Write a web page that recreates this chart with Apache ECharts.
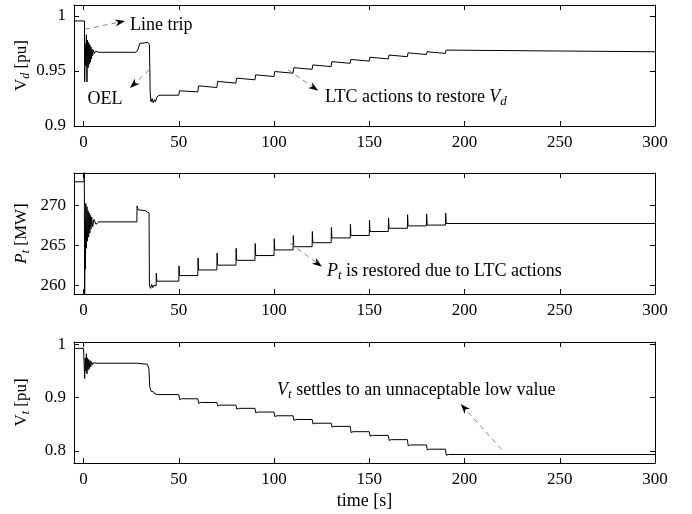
<!DOCTYPE html>
<html>
<head>
<meta charset="utf-8">
<script src="https://cdn.jsdelivr.net/npm/echarts@6/dist/echarts.min.js"></script>
<style>
html,body{margin:0;padding:0;background:#fff;}
#chart{width:692px;height:514px;}
</style>
</head>
<body>
<div id="chart"></div>
<script>
var timeTicks = [0, 50, 100, 150, 200, 250, 300];
var vdTicks = [0.9, 0.95, 1];
var ptTicks = [260, 265, 270];
var vtTicks = [0.8, 0.9, 1];

// LTC tap instants (same for the three signals)
var ltcTimes = [50, 60, 70, 80, 90, 100, 110, 120, 130, 140, 150, 160, 170, 180, 190];

// V_d : pre-fault, line trip swing, OEL action
var vdStart = [[-5, 0.9955], [0.5, 0.9955], [0.6, 0.940], [0.9, 0.975], [1.2, 0.955], [1.5, 0.983], [1.8, 0.940],
  [2.1, 0.978], [2.4, 0.953], [2.7, 0.976], [3.0, 0.956], [3.3, 0.974], [3.6, 0.958], [3.9, 0.972], [4.2, 0.961],
  [4.5, 0.970], [4.8, 0.964], [5.2, 0.969], [5.7, 0.966], [6.5, 0.968], [8, 0.967], [27.5, 0.967], [28.5, 0.969],
  [29.5, 0.975], [30.5, 0.976], [33.8, 0.976], [34.6, 0.974], [35.0, 0.930], [35.4, 0.922], [36.0, 0.925],
  [36.6, 0.921], [37.2, 0.924], [37.8, 0.922], [38.5, 0.926], [39.5, 0.928]];
var vdPeak = [0.932, 0.9365, 0.9405, 0.9435, 0.9465, 0.9495, 0.953, 0.9555, 0.9585, 0.9605, 0.9625, 0.9645, 0.9665, 0.9675, 0.969];
var vdLevel = [0.931, 0.935, 0.939, 0.942, 0.945, 0.948, 0.9515, 0.954, 0.957, 0.959, 0.961, 0.963, 0.965, 0.966, 0.9675];

// P_t [MW]
var ptStart = [[-5, 272.9], [0.3, 272.9], [0.4, 275], [0.6, 258], [0.8, 268], [1.0, 262], [1.2, 270.2], [1.5, 264.6],
  [1.8, 269.8], [2.1, 265.5], [2.4, 269.3], [2.7, 266], [3.0, 269], [3.3, 266.5], [3.6, 268.7], [3.9, 267],
  [4.3, 268.5], [4.8, 267.3], [5.5, 268.2], [6.5, 267.6], [8, 267.9], [28, 267.9], [28.1, 269.9], [28.6, 269.4],
  [32.5, 269.3], [33.5, 269.1], [34.4, 269.0], [34.6, 260.0], [35.2, 259.6], [35.8, 260.1], [36.4, 259.7],
  [37.0, 260.0], [37.6, 259.8], [38.1, 259.9], [38.2, 261.5], [38.5, 260.5]];
var ptPeak = [262.4, 263.4, 264.0, 264.6, 265.2, 265.8, 266.2, 266.7, 267.2, 267.6, 268.1, 268.4, 268.8, 268.9, 269.0];
var ptLevel = [261.2, 261.9, 262.5, 263.1, 263.7, 264.4, 264.8, 265.3, 265.9, 266.2, 266.7, 267.1, 267.4, 267.5, 267.7];

// V_t [pu]
var vtStart = [[-5, 0.993], [0.0, 0.993], [0.4, 0.990], [0.6, 0.936], [0.9, 0.975], [1.2, 0.950], [1.5, 0.983],
  [1.8, 0.945], [2.1, 0.975], [2.4, 0.952], [2.7, 0.972], [3.0, 0.955], [3.4, 0.970], [3.8, 0.958], [4.2, 0.968],
  [4.7, 0.962], [5.3, 0.966], [6.5, 0.965], [28, 0.965], [28.5, 0.963], [33.6, 0.963], [34.3, 0.955], [34.8, 0.920],
  [35.5, 0.912], [36.2, 0.909], [36.8, 0.911], [37.5, 0.907], [38.2, 0.908], [39.0, 0.906]];
var vtPeak = [0.8965, 0.8895, 0.8845, 0.8785, 0.8715, 0.8645, 0.8575, 0.8505, 0.8445, 0.8345, 0.8275, 0.8195, 0.8095, 0.8015, 0.7915];
var vtLevel = [0.898, 0.891, 0.886, 0.880, 0.873, 0.866, 0.859, 0.852, 0.846, 0.836, 0.829, 0.821, 0.811, 0.803, 0.793];

var FONT = '"Liberation Serif", "Times New Roman", serif';

function buildSteps(start, peaks, levels, rise) {
  var pts = start.slice();
  var prev = start[start.length - 1][1];
  for (var i = 0; i < ltcTimes.length; i++) {
    var t = ltcTimes[i];
    pts.push([t, prev]);
    pts.push([t + rise * 0.3, peaks[i]]);
    pts.push([t + rise, levels[i]]);
    prev = levels[i];
  }
  pts.push([300, prev]);
  return pts;
}

var chart = echarts.init(document.getElementById('chart'), null, {renderer: 'canvas'});

var grids = [
  {left: 74, right: 37, top: 5, height: 121},
  {left: 74, right: 37, top: 173, height: 121},
  {left: 74, right: 37, top: 342, height: 121}
];
var yRanges = [[0.9, 1.01], [258.9, 274], [0.777, 1.005]];
var yTicks = [vdTicks, ptTicks, vtTicks];

function makeRich(size) {
  return {
    n: {fontFamily: FONT, fontSize: size, color: '#000', lineHeight: size + 4, verticalAlign: 'middle'},
    i: {fontFamily: FONT, fontSize: size, color: '#000', fontStyle: 'italic', lineHeight: size + 4, verticalAlign: 'middle'},
    s: {fontFamily: FONT, fontSize: Math.round(size * 0.7), color: '#000', fontStyle: 'italic', lineHeight: Math.round(size * 0.7), verticalAlign: 'bottom'}
  };
}
var nameRich = makeRich(17);
var noteRich = makeRich(18);
var yNames = ['{n|V}{s|d}{n| [pu]}', '{i|P}{s|t}{n| [MW]}', '{n|V}{s|t}{n| [pu]}'];

var xAxes = [], yAxes = [];
for (var g = 0; g < 3; g++) {
  [false, true].forEach(function (mirror) {
    xAxes.push({
      type: 'value', gridIndex: g, min: -5, max: 300,
      position: mirror ? 'top' : 'bottom',
      name: (!mirror && g === 2) ? 'time [s]' : '',
      nameLocation: 'middle', nameGap: 29, nameMoveOverlap: false,
      nameTextStyle: {fontFamily: FONT, fontSize: 18, color: '#000'},
      axisLine: {show: true, onZero: false, lineStyle: {color: '#000', width: 1}},
      axisTick: {show: true, inside: true, length: 5, customValues: timeTicks, lineStyle: {color: '#000'}},
      axisLabel: {show: !mirror, customValues: timeTicks, margin: 8, fontFamily: FONT, fontSize: 17, color: '#000'},
      splitLine: {show: false}
    });
    yAxes.push({
      type: 'value', gridIndex: g, min: yRanges[g][0], max: yRanges[g][1],
      position: mirror ? 'right' : 'left',
      name: mirror ? '' : yNames[g],
      nameLocation: 'middle', nameGap: 42, nameRotate: 90, nameMoveOverlap: false,
      nameTextStyle: {rich: nameRich},
      axisLine: {show: true, onZero: false, lineStyle: {color: '#000', width: 1}},
      axisTick: {show: true, inside: true, length: 5, customValues: yTicks[g], lineStyle: {color: '#000'}},
      axisLabel: {show: !mirror, customValues: yTicks[g], margin: 8, fontFamily: FONT, fontSize: 17, color: '#000'},
      splitLine: {show: false}
    });
  });
}

var seriesData = [
  buildSteps(vdStart, vdPeak, vdLevel, 1.2),
  buildSteps(ptStart, ptPeak, ptLevel, 0.4),
  buildSteps(vtStart, vtPeak, vtLevel, 1.5)
];

chart.setOption({
  animation: false,
  backgroundColor: '#fff',
  grid: grids,
  xAxis: xAxes,
  yAxis: yAxes,
  series: seriesData.map(function (d, g) {
    return {
      type: 'line', xAxisIndex: 2 * g, yAxisIndex: 2 * g, data: d,
      showSymbol: false, symbol: 'none', clip: true,
      lineStyle: {color: '#000', width: 1}
    };
  })
});

// annotations: [panel, text, text anchor (t, v), align, arrow from, arrow to]
var notes = [
  [0, 'Line trip', [24.4, 0.9918], 'left', [0.8, 0.988], [21.8, 0.9955]],
  [0, 'OEL', [11.3, 0.9245], 'center', [34.4, 0.951], [24.4, 0.9345]],
  [0, '{n|LTC actions to restore }{i|V}{s|d}', [126.8, 0.926], 'left', [107.4, 0.951], [123.2, 0.932]],
  [1, '{i|P}{s|t}{n| is restored due to LTC actions}', [127.8, 261.7], 'left', [108.4, 265.23], [125.2, 262.3]],
  [2, '{i|V}{s|t}{n| settles to an unnaceptable low value}', [101.6, 0.9146], 'left', [219.4, 0.803], [198, 0.888]]
];

var graphics = [];
notes.forEach(function (n) {
  var p = chart.convertToPixel({seriesIndex: n[0]}, n[2]);
  var a = chart.convertToPixel({seriesIndex: n[0]}, n[4]);
  var b = chart.convertToPixel({seriesIndex: n[0]}, n[5]);
  var txt = n[1].indexOf('{') === 0 ? n[1] : '{n|' + n[1] + '}';
  graphics.push({
    type: 'text', x: p[0], y: p[1], z: 10,
    style: {text: txt, rich: noteRich, align: n[3], verticalAlign: 'middle', fill: '#000'}
  });
  var ang = Math.atan2(b[1] - a[1], b[0] - a[0]);
  var L = 10, W = 3.6, back = 7;
  var ux = Math.cos(ang), uy = Math.sin(ang);
  var bx = b[0] - ux * back, by = b[1] - uy * back;
  graphics.push({
    type: 'line', z: 9,
    shape: {x1: a[0], y1: a[1], x2: bx, y2: by},
    style: {stroke: '#888', lineWidth: 1, lineDash: [5, 4]}
  });
  graphics.push({
    type: 'polygon', z: 10,
    shape: {points: [
      [b[0], b[1]],
      [b[0] - ux * L - uy * W, b[1] - uy * L + ux * W],
      [b[0] - ux * back, b[1] - uy * back],
      [b[0] - ux * L + uy * W, b[1] - uy * L - ux * W]
    ]},
    style: {fill: '#000'}
  });
});
chart.setOption({graphic: graphics});

window.onresize = function () { chart.resize(); };
</script>
</body>
</html>
